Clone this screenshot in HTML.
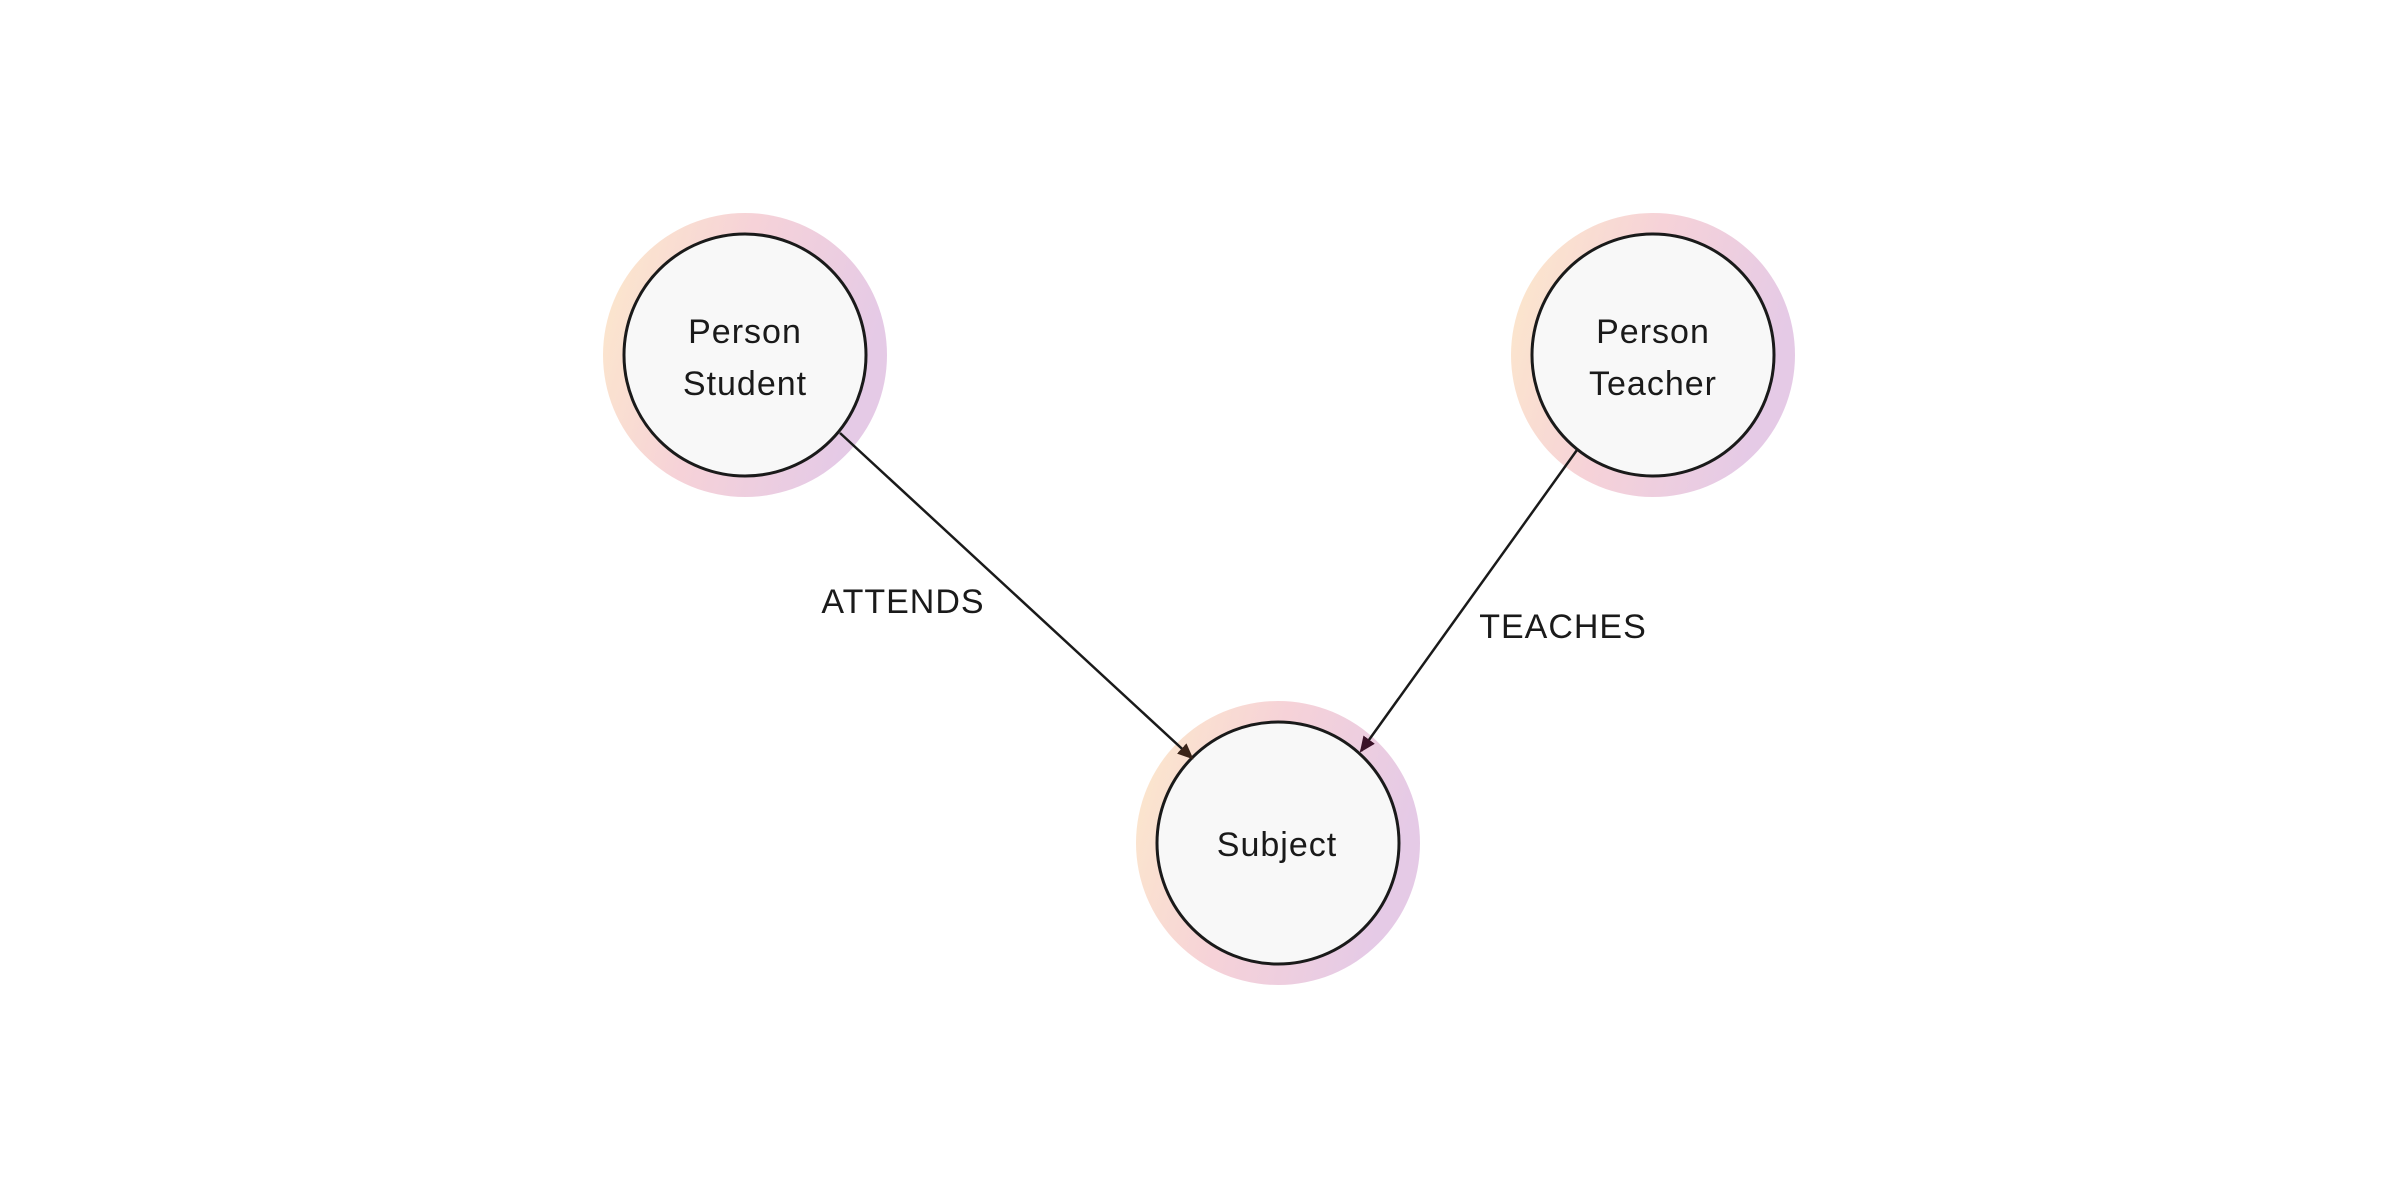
<!DOCTYPE html>
<html><head><meta charset="utf-8"><style>
html,body{margin:0;padding:0;background:#fff;}
svg{display:block;}
text{font-family:"Liberation Sans",sans-serif;fill:#1a1a1a;}
</style></head><body>
<svg width="2400" height="1200" viewBox="0 0 2400 1200" xmlns="http://www.w3.org/2000/svg">
<defs>
<linearGradient id="g" x1="0" y1="0" x2="1" y2="0.3">
<stop offset="0" stop-color="#fdeacb"/>
<stop offset="0.5" stop-color="#f6d2d8"/>
<stop offset="1" stop-color="#e5cae6"/>
</linearGradient>
<marker id="a" markerWidth="16" markerHeight="14" refX="14" refY="7" orient="auto" markerUnits="userSpaceOnUse">
<path d="M0,0 L16,7 L0,14 z" fill="#3a2418"/>
</marker>
<marker id="b" markerWidth="16" markerHeight="14" refX="14" refY="7" orient="auto" markerUnits="userSpaceOnUse">
<path d="M0,0 L16,7 L0,14 z" fill="#3a1228"/>
</marker>
</defs>
<circle cx="745" cy="355" r="142" fill="url(#g)"/>
<circle cx="745" cy="355" r="121" fill="#f8f8f8" stroke="#1a1a1a" stroke-width="3"/>
<circle cx="1653" cy="355" r="142" fill="url(#g)"/>
<circle cx="1653" cy="355" r="121" fill="#f8f8f8" stroke="#1a1a1a" stroke-width="3"/>
<circle cx="1278" cy="843" r="142" fill="url(#g)"/>
<circle cx="1278" cy="843" r="121" fill="#f8f8f8" stroke="#1a1a1a" stroke-width="3"/>
<line x1="840" y1="433" x2="1192" y2="758" stroke="#1a1a1a" stroke-width="2.5" marker-end="url(#a)"/>
<line x1="1577" y1="450" x2="1361" y2="751" stroke="#1a1a1a" stroke-width="2.5" marker-end="url(#b)"/>
<g font-size="34" text-anchor="middle" letter-spacing="1">
<text x="745" y="343">Person</text>
<text x="745" y="395">Student</text>
<text x="1653" y="343">Person</text>
<text x="1653" y="395">Teacher</text>
<text x="1277" y="856">Subject</text>
<text x="903" y="613">ATTENDS</text>
<text x="1563" y="638">TEACHES</text>
</g>
</svg>
</body></html>
